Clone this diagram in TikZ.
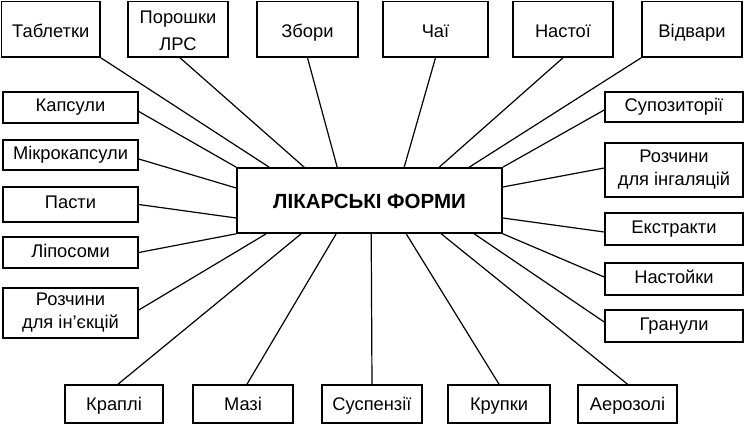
\documentclass[tikz,border=0pt]{standalone}
\usepackage{fontspec}
\setmainfont{Liberation Sans}
\begin{document}
\begin{tikzpicture}[x=1pt,y=1pt,
  box/.style={draw=black, line width=1.6pt, fill=white, inner sep=0pt, align=center,
    font=\fontsize{18.3}{23}\selectfont},
  one/.style={text height=13pt, text depth=4pt},
  toprow/.style={text height=17pt, text depth=0pt},
  botrow/.style={text height=14.5pt, text depth=2.5pt},
  link/.style={draw=black, line width=1.2pt}]
\useasboundingbox[fill=white] (0,0) rectangle (745,-425);
% central
\node[box, toprow, minimum width=265, minimum height=65, font=\bfseries\fontsize{20.5}{24}\selectfont] (c) at (369.5,-200.5) {ЛІКАРСЬКІ ФОРМИ};
% top row
\node[box, toprow, minimum width=98.5, minimum height=55.5] (tab) at (50.75,-29.25) {Таблетки};
\node[box, minimum width=100, minimum height=55.5, font=\fontsize{18.3}{27}\selectfont] (por) at (178,-29.25) {\rule{0pt}{16pt}Порошки\\ЛРС};
\node[box, toprow, minimum width=101, minimum height=55.5] (zb) at (307.5,-29.25) {Збори};
\node[box, toprow, minimum width=105, minimum height=55.5] (chai) at (435.5,-29.25) {Чаї};
\node[box, toprow, minimum width=100, minimum height=55.5] (nast) at (563,-29.25) {Настої};
\node[box, toprow, minimum width=100, minimum height=55.5] (vid) at (692,-29.25) {Відвари};
% left column
\node[box, one, minimum width=135, minimum height=31] (kap) at (70.5,-107.5) {Капсули};
\node[box, one, minimum width=135, minimum height=30] (mik) at (70.5,-155) {Мікрокапсули};
\node[box, one, minimum width=135, minimum height=35] (pas) at (70.5,-204.5) {Пасти};
\node[box, one, minimum width=135, minimum height=31] (lip) at (70.5,-252.5) {Ліпосоми};
\node[box, minimum width=135, minimum height=50] (rin) at (70.5,-313) {Розчини\\для ін’єкцій};
% right column
\node[box, one, minimum width=138, minimum height=30] (sup) at (674,-107) {Супозиторії};
\node[box, minimum width=138, minimum height=54] (rig) at (674,-170) {Розчини\\для інгаляцій};
\node[box, one, minimum width=138, minimum height=32] (ext) at (674,-229) {Екстракти};
\node[box, one, minimum width=138, minimum height=32] (nasty) at (674,-279) {Настойки};
\node[box, one, minimum width=138, minimum height=32] (gran) at (674,-326) {Гранули};
% bottom row
\node[box, botrow, minimum width=98, minimum height=38] (krap) at (114,-404) {Краплі};
\node[box, botrow, minimum width=100, minimum height=38] (maz) at (243,-404) {Мазі};
\node[box, botrow, minimum width=100, minimum height=38] (susp) at (372,-404) {Суспензії};
\node[box, botrow, minimum width=102, minimum height=38] (krup) at (499,-404) {Крупки};
\node[box, botrow, minimum width=99, minimum height=38] (aer) at (627.5,-404) {Аерозолі};
% connectors
\draw[link] (tab.south east) -- ([xshift=33]c.north west);
\draw[link] ([xshift=2]por.south) -- ([xshift=68]c.north west);
\draw[link] (zb.south) -- ([xshift=101]c.north west);
\draw[link] (chai.south) -- ([xshift=168]c.north west);
\draw[link] (nast.south) -- ([xshift=203]c.north west);
\draw[link] (vid.south west) -- ([xshift=233]c.north west);
\draw[link] ([yshift=-3]sup.west) -- (c.north east);
\draw[link] ([yshift=2]rig.west) -- ([yshift=13.5]c.east);
\draw[link] ([yshift=-3]ext.west) -- ([yshift=-17.5]c.east);
\draw[link] ([yshift=2]nasty.west) -- (c.south east);
\draw[link] ([yshift=4]gran.west) -- ([xshift=238]c.south west);
\draw[link] (aer.north) -- ([xshift=205]c.south west);
\draw[link] (krup.north) -- ([xshift=170]c.south west);
\draw[link] (susp.north) -- ([xshift=135]c.south west);
\draw[link] ([xshift=4]maz.north) -- ([xshift=100]c.south west);
\draw[link] ([xshift=4]krap.north) -- ([xshift=65]c.south west);
\draw[link] ([yshift=3]rin.east) -- ([xshift=30]c.south west);
\draw[link] (lip.east) -- (c.south west);
\draw[link] (pas.east) -- ([yshift=-17.5]c.west);
\draw[link] ([yshift=-4]mik.east) -- ([yshift=12.5]c.west);
\draw[link] ([yshift=-4]kap.east) -- (c.north west);
\end{tikzpicture}
\end{document}
